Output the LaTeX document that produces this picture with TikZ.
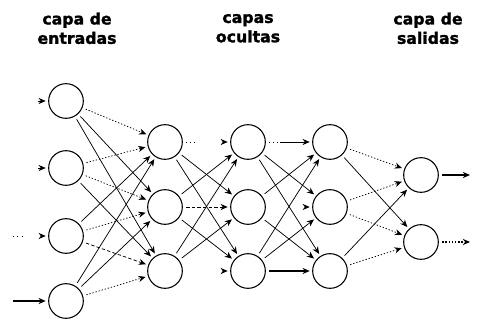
\documentclass[tikz,border=0pt]{standalone}
\usepackage{fontspec}
\setmainfont{DejaVu Sans}
\newfontfamily\headfont[BoldFeatures={FakeBold=1.6}]{DejaVu Sans}
\usetikzlibrary{arrows.meta}
\begin{document}
\begin{tikzpicture}[x=0.75pt,y=-0.75pt,
  neuron/.style={circle,draw,line width=0.8pt,minimum size=26pt,inner sep=0pt},
  title/.style={font=\headfont\bfseries\fontsize{11.8}{14.5}\selectfont,align=center,inner sep=0pt},
  link/.style={line width=0.55pt,-{Stealth[length=5.4pt,width=4.6pt]},shorten <=2.5pt,shorten >=1.8pt},
  dotl/.style={link,dash pattern=on 1pt off 1.4pt},
  dashl/.style={link,dash pattern=on 2.6pt off 1.6pt},
  faint/.style={link,dash pattern=on 0.7pt off 2.2pt on 0.7pt off 2.2pt on 0.7pt off 80pt},
  heavy/.style={link,line width=0.9pt}]
\useasboundingbox (0,0) rectangle (479,320);

% layer titles
\node[title] (t1) at (77,28.3) {capa de\\entradas};
\node[title] (t2) at (248,28.3) {capas\\ocultas};
\node[title] (t3) at (428,28.3) {capa de\\salidas};

% input layer
\node[neuron] (I1) at (66,101) {};
\node[neuron] (I2) at (66,168) {};
\node[neuron] (I3) at (66,236) {};
\node[neuron] (I4) at (66,301) {};
% hidden layers
\foreach \c/\x in {A/165,B/248,C/330}{
  \node[neuron] (\c1) at (\x,142) {};
  \node[neuron] (\c2) at (\x,207) {};
  \node[neuron] (\c3) at (\x,271) {};
}
% output layer
\node[neuron] (O1) at (421,175) {};
\node[neuron] (O2) at (421,242) {};

% incoming signals
\coordinate (s1) at (38,101);
\coordinate (s2) at (38,168);
\coordinate (s3) at (13,236);
\coordinate (s4) at (13,301);
\draw[link,shorten <=0pt] (s1) -- (I1);
\draw[link,shorten <=0pt] (s2) -- (I2);
\draw[link,shorten <=0pt,dash pattern=on 0.8pt off 2.4pt on 0.8pt off 2.4pt on 0.8pt off 30pt] (s3) -- (I3);
\draw[heavy,shorten <=0pt] (s4) -- (I4);

% input -> first hidden layer
\draw[dotl]  (I1) -- (A1);
\draw[link]  (I1) -- (A2);
\draw[link]  (I1) -- (A3);
\draw[dotl]  (I2) -- (A1);
\draw[dotl]  (I2) -- (A2);
\draw[link]  (I2) -- (A3);
\draw[link]  (I3) -- (A1);
\draw[dotl]  (I3) -- (A2);
\draw[dashl] (I3) -- (A3);
\draw[link]  (I4) -- (A1);
\draw[link]  (I4) -- (A2);
\draw[dotl]  (I4) -- (A3);

% first -> second hidden layer
\draw[faint] (A1) -- (B1);
\draw[link]  (A1) -- (B2);
\draw[link]  (A1) -- (B3);
\draw[link]  (A2) -- (B1);
\draw[dashl] (A2) -- (B2);
\draw[link]  (A2) -- (B3);
\draw[link]  (A3) -- (B1);
\draw[link]  (A3) -- (B2);
\draw[link,dash pattern=on 0pt off 80pt] (A3) -- (B3);

% second -> third hidden layer
\draw[link,dash pattern=on 0.8pt off 2pt on 0.8pt off 2pt on 0.8pt off 2pt on 60pt off 1pt] (B1) -- (C1);
\draw[link]  (B1) -- (C2);
\draw[link]  (B1) -- (C3);
\draw[link]  (B2) -- (C1);
\draw[link,dash pattern=on 0pt off 36pt on 0.7pt off 80pt] (B2) -- (C2);
\draw[link]  (B2) -- (C3);
\draw[link]  (B3) -- (C1);
\draw[link]  (B3) -- (C2);
\draw[heavy] (B3) -- (C3);

% third hidden layer -> output
\draw[dotl]  (C1) -- (O1);
\draw[link]  (C1) -- (O2);
\draw[dotl]  (C2) -- (O1);
\draw[dotl]  (C2) -- (O2);
\draw[link]  (C3) -- (O1);
\draw[dotl]  (C3) -- (O2);

% outgoing signals
\coordinate (e1) at (470,175);
\coordinate (e2) at (470,242);
\draw[heavy,shorten >=0pt] (O1) -- (e1);
\draw[dotl,line width=0.8pt,shorten >=0pt] (O2) -- (e2);
\end{tikzpicture}
\end{document}
